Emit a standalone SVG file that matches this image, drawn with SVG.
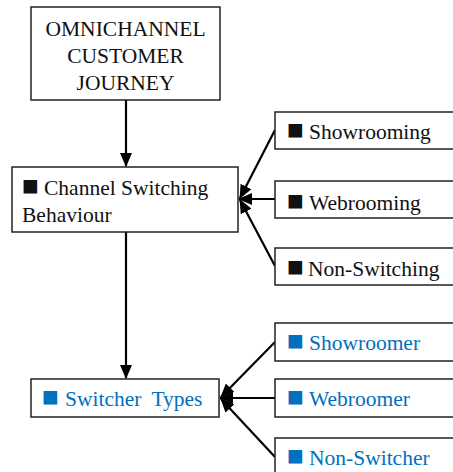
<svg xmlns="http://www.w3.org/2000/svg" width="453" height="472" viewBox="0 0 453 472">
  <style>
    .box { fill: #ffffff; stroke: #222222; stroke-width: 1.5; }
    .t { font-family: "Liberation Serif", "Times New Roman", serif; font-size: 21.5px; fill: #111111; }
    .sq { font-size: 28px; }
    .b { fill: #0070c0; }
    .mid { text-anchor: middle; }
    .link { stroke: #000000; stroke-width: 2.2; fill: none; marker-end: url(#head); }
  </style>
  <defs>
    <marker id="head" markerUnits="userSpaceOnUse" markerWidth="14" markerHeight="12" viewBox="0 0 14 12" refX="13" refY="6" orient="auto">
      <path d="M0,0 L14,6 L0,12 Z" fill="#000000"/>
    </marker>
  </defs>
  <rect width="453" height="472" fill="#ffffff"/>

  <g id="connectors">
    <line class="link" x1="126" y1="100" x2="126" y2="166"/>
    <line class="link" x1="126" y1="232" x2="126" y2="378"/>
    <line class="link" x1="275" y1="130" x2="240" y2="198"/>
    <line class="link" x1="275" y1="199" x2="239" y2="199"/>
    <line class="link" x1="275" y1="266" x2="240" y2="200"/>
    <line class="link" x1="275" y1="342" x2="221" y2="397"/>
    <line class="link" x1="275" y1="398" x2="220" y2="398"/>
    <line class="link" x1="275" y1="457" x2="221" y2="399"/>
  </g>

  <g id="journey">
    <rect class="box" x="31" y="7" width="189" height="93"/>
    <text class="t mid" x="125.5" y="35.5">OMNICHANNEL</text>
    <text class="t mid" x="125.5" y="63">CUSTOMER</text>
    <text class="t mid" x="125.5" y="90">JOURNEY</text>
  </g>

  <g id="switching-behaviour">
    <rect class="box" x="12" y="167" width="226" height="65"/>
    <text class="t" x="22" y="195"><tspan class="sq">■</tspan><tspan x="44">Channel Switching</tspan></text>
    <text class="t" x="22" y="222">Behaviour</text>
  </g>

  <g id="showrooming">
    <rect class="box" x="275" y="112" width="190" height="37"/>
    <text class="t" x="287" y="139"><tspan class="sq">■</tspan><tspan x="309">Showrooming</tspan></text>
  </g>
  <g id="webrooming">
    <rect class="box" x="275" y="181" width="190" height="37"/>
    <text class="t" x="287" y="210"><tspan class="sq">■</tspan><tspan x="309">Webrooming</tspan></text>
  </g>
  <g id="non-switching">
    <rect class="box" x="275" y="248" width="190" height="37"/>
    <text class="t" x="287" y="276"><tspan class="sq">■</tspan><tspan x="308">Non-Switching</tspan></text>
  </g>

  <g id="switcher-types">
    <rect class="box" x="31" y="379" width="188" height="38"/>
    <text class="t b" x="42" y="406"><tspan class="sq">■</tspan><tspan x="65" word-spacing="5">Switcher Types</tspan></text>
  </g>

  <g id="showroomer">
    <rect class="box" x="275" y="323" width="190" height="38"/>
    <text class="t b" x="287" y="350"><tspan class="sq">■</tspan><tspan x="309">Showroomer</tspan></text>
  </g>
  <g id="webroomer">
    <rect class="box" x="275" y="379" width="190" height="38"/>
    <text class="t b" x="287" y="406"><tspan class="sq">■</tspan><tspan x="309">Webroomer</tspan></text>
  </g>
  <g id="non-switcher">
    <rect class="box" x="275" y="438" width="190" height="40"/>
    <text class="t b" x="287" y="465"><tspan class="sq">■</tspan><tspan x="309">Non-Switcher</tspan></text>
  </g>
</svg>
